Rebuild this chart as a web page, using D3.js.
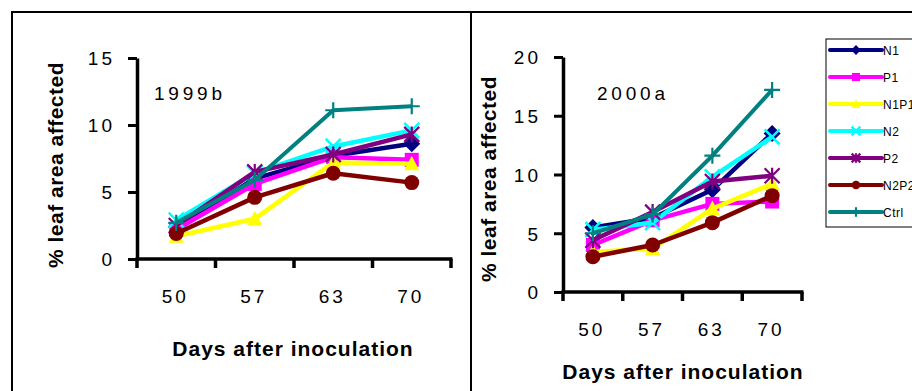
<!DOCTYPE html>
<html>
<head>
<meta charset="utf-8">
<script src="https://cdn.jsdelivr.net/npm/d3@7"></script>
<style>
  body { margin: 0; background: #fff; }
  svg { display: block; font-family: "Liberation Sans", Arial, sans-serif; }
</style>
</head>
<body>
<svg id="chart" width="912" height="391"></svg>
<script>
// categories and series
const days = ["50", "57", "63", "70"];
const seriesNames = ["N1", "P1", "N1P1", "N2", "P2", "N2P2", "Ctrl"];
const seriesColors = ["#000080", "#ff00ff", "#ffff00", "#00ffff", "#800080", "#800000", "#008080"];
const markerKinds = ["diamond", "square", "triangle", "x", "star", "circle", "plus"];

// 1999b values (% leaf area affected)
const N1_1999 = [2.4, 6.0, 7.7, 8.6];
const P1_1999 = [2.2, 5.6, 7.6, 7.4];
const N1P1_1999 = [1.7, 3.0, 7.2, 7.1];
const N2_1999 = [2.9, 6.4, 8.4, 9.6];
const P2_1999 = [2.5, 6.5, 7.8, 9.3];
const N2P2_1999 = [1.9, 4.6, 6.4, 5.7];
const Ctrl_1999 = [2.7, 5.9, 11.1, 11.4];

// 2000a values
const N1_2000 = [5.5, 6.3, 8.7, 13.5];
const P1_2000 = [4.0, 6.1, 7.5, 7.7];
const N1P1_2000 = [3.4, 3.7, 7.1, 9.2];
const N2_2000 = [5.3, 5.9, 9.8, 13.2];
const P2_2000 = [4.4, 6.8, 9.4, 9.9];
const N2P2_2000 = [3.0, 4.0, 5.9, 8.2];
const Ctrl_2000 = [5.0, 6.6, 11.6, 17.2];

const ticks1999 = [0, 5, 10, 15];
const ticks2000 = [0, 5, 10, 15, 20];

const svg = d3.select("#chart");

// table-like frame
svg.append("line").attr("x1", 11).attr("x2", 912).attr("y1", 12).attr("y2", 12)
  .attr("stroke", "#000").attr("stroke-width", 2);
svg.append("line").attr("x1", 12).attr("x2", 12).attr("y1", 11).attr("y2", 391)
  .attr("stroke", "#000").attr("stroke-width", 2);
svg.append("line").attr("x1", 471).attr("x2", 471).attr("y1", 11).attr("y2", 391)
  .attr("stroke", "#000").attr("stroke-width", 2);

function drawMarker(g, kind, color, s) {
  const r = 7.5 * s;
  if (kind === "diamond") {
    const q = 8.5 * s;
    g.append("path").attr("d", `M0,${-q}L${q},0L0,${q}L${-q},0Z`).attr("fill", color);
  } else if (kind === "square") {
    g.append("rect").attr("x", -7 * s).attr("y", -7 * s)
      .attr("width", 14 * s).attr("height", 14 * s).attr("fill", color);
  } else if (kind === "triangle") {
    g.append("path").attr("d", `M0,${-8 * s}L${r},${6.5 * s}L${-r},${6.5 * s}Z`).attr("fill", color);
  } else if (kind === "circle") {
    g.append("circle").attr("r", r).attr("fill", color);
  } else {
    let d = "";
    const a = 7.5 * s;
    if (kind === "x" || kind === "star") d += `M${-a},${-a}L${a},${a}M${-a},${a}L${a},${-a}`;
    if (kind === "star") d += `M0,${-8 * s}L0,${8 * s}`;
    if (kind === "plus") d += `M0,${-8 * s}L0,${8 * s}M${-8 * s},0L${8 * s},0`;
    g.append("path").attr("d", d).attr("stroke", color)
      .attr("stroke-width", kind === "x" ? 2.5 : 2.2).attr("fill", "none");
  }
}

function panel(cfg) {
  const x = d3.scaleBand().domain(days).range([cfg.x0, cfg.x1]);
  const y = d3.scaleLinear().domain([0, cfg.max]).range([cfg.y0, cfg.yTop]);
  const g = svg.append("g");

  // y axis
  const ya = g.append("g").attr("transform", `translate(${cfg.x0},0)`)
    .call(d3.axisLeft(y).tickValues(cfg.ticks).tickSize(9).tickPadding(13).tickSizeOuter(0));
  ya.select(".domain").attr("stroke-width", 3.5);
  ya.selectAll(".tick line").attr("stroke-width", 3);
  ya.selectAll(".tick text").attr("font-size", 19).attr("fill", "#000")
    .attr("letter-spacing", 3).attr("dy", "0.36em");

  // x axis: line, ticks between categories, labels centered
  g.append("line").attr("x1", cfg.x0 - 1.5).attr("x2", cfg.x1 + 1.5)
    .attr("y1", cfg.y0).attr("y2", cfg.y0).attr("stroke", "#000").attr("stroke-width", 3.5);
  const edges = days.map(d => x(d)).concat([cfg.x1]);
  g.selectAll(".xt").data(edges).enter().append("line")
    .attr("x1", d => d).attr("x2", d => d).attr("y1", cfg.y0).attr("y2", cfg.y0 + 9)
    .attr("stroke", "#000").attr("stroke-width", 3.5);
  g.selectAll(".xl").data(days).enter().append("text")
    .attr("x", d => x(d) + x.bandwidth() / 2 - 1).attr("y", cfg.y0 + 44)
    .attr("text-anchor", "middle").attr("font-size", 19).attr("letter-spacing", 3)
    .text(d => d);

  // axis titles
  g.append("text").attr("x", cfg.titleX).attr("y", cfg.titleY)
    .attr("text-anchor", "middle").attr("font-size", 21).attr("font-weight", "bold")
    .attr("letter-spacing", 1).text("Days after inoculation");
  g.append("text").attr("transform", `translate(${cfg.yTitleX},${cfg.yTitleY}) rotate(-90)`)
    .attr("text-anchor", "middle").attr("font-size", 21).attr("font-weight", "bold")
    .attr("letter-spacing", 0.5).text("% leaf area affected");

  // panel label
  g.append("text").attr("x", cfg.labelX).attr("y", 100).attr("font-size", 19)
    .attr("letter-spacing", 3.8).text(cfg.label);

  // series
  const line = d3.line().x((d, i) => x(days[i]) + x.bandwidth() / 2).y(d => y(d));
  cfg.data.forEach((vals, k) => {
    const sg = g.append("g");
    sg.append("path").attr("d", line(vals)).attr("fill", "none")
      .attr("stroke", seriesColors[k]).attr("stroke-width", k === 6 ? 4 : 4.5)
      .attr("stroke-linejoin", "round");
    vals.forEach((v, i) => {
      const mg = sg.append("g")
        .attr("transform", `translate(${x(days[i]) + x.bandwidth() / 2},${y(v)})`);
      drawMarker(mg, markerKinds[k], seriesColors[k], 1);
    });
  });
}

panel({
  x0: 137, x1: 451, y0: 259, yTop: 58, max: 15, ticks: ticks1999,
  data: [N1_1999, P1_1999, N1P1_1999, N2_1999, P2_1999, N2P2_1999, Ctrl_1999],
  titleX: 293, titleY: 356, yTitleX: 63, yTitleY: 165, label: "1999b", labelX: 154
});

panel({
  x0: 563, x1: 802, y0: 292, yTop: 57, max: 20, ticks: ticks2000,
  data: [N1_2000, P1_2000, N1P1_2000, N2_2000, P2_2000, N2P2_2000, Ctrl_2000],
  titleX: 683, titleY: 379, yTitleX: 496, yTitleY: 179, label: "2000a", labelX: 597
});

// legend
const lg = svg.append("g");
lg.append("rect").attr("x", 826).attr("y", 39).attr("width", 100).attr("height", 188)
  .attr("fill", "#fff").attr("stroke", "#000").attr("stroke-width", 1);
const legY = d3.scalePoint().domain(seriesNames).range([50, 212]);
seriesNames.forEach((name, k) => {
  const cy = legY(name);
  lg.append("line").attr("x1", 830).attr("x2", 882).attr("y1", cy).attr("y2", cy)
    .attr("stroke", seriesColors[k]).attr("stroke-width", 4).attr("stroke-linecap", "round");
  const mg = lg.append("g").attr("transform", `translate(856,${cy})`);
  drawMarker(mg, markerKinds[k], seriesColors[k], 0.58);
  lg.append("text").attr("x", 883).attr("y", cy + 4.5).attr("font-size", 12)
    .attr("letter-spacing", 0.5).text(name);
});
</script>
</body>
</html>
